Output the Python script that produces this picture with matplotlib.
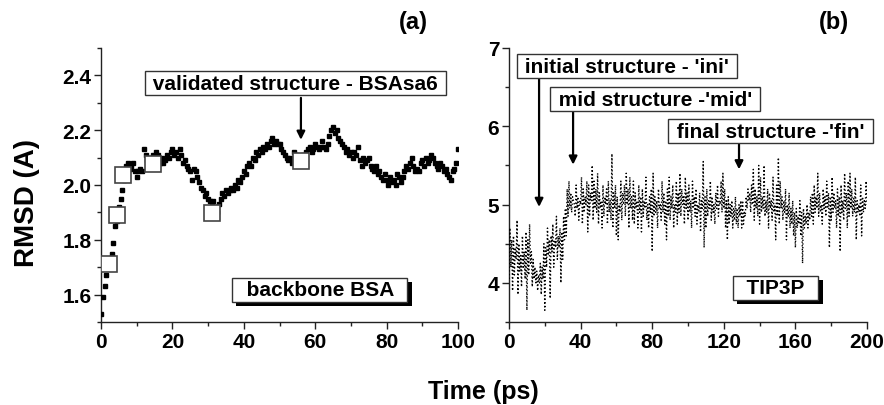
import numpy as np
import matplotlib.pyplot as plt
from matplotlib.ticker import MultipleLocator
import matplotlib.patheffects as pe

plt.rcParams['font.family'] = ['Liberation Sans', 'DejaVu Sans']
plt.rcParams['font.weight'] = 'bold'

# (a) backbone BSA RMSD, sampled every 0.5 ps
bsa_time = np.arange(0, 100.5, 0.5)
bsa_rmsd = [
    1.53, 1.59, 1.63, 1.67, 1.70, 1.72, 1.75, 1.79, 1.85, 1.87,
    1.92, 1.95, 1.98, 2.02, 2.07, 2.08, 2.06, 2.07, 2.08, 2.05,
    2.03, 2.05, 2.06, 2.05, 2.13, 2.11, 2.09, 2.08, 2.10, 2.11,
    2.09, 2.12, 2.11, 2.08, 2.10, 2.08, 2.09, 2.11, 2.10, 2.12,
    2.13, 2.11, 2.12, 2.10, 2.13, 2.11, 2.08, 2.09, 2.07, 2.06,
    2.05, 2.02, 2.06, 2.05, 2.03, 2.01, 1.99, 1.98, 1.96, 1.97,
    1.95, 1.94, 1.93, 1.94, 1.92, 1.90, 1.93, 1.95, 1.97, 1.96,
    1.98, 1.97, 1.98, 1.99, 1.98, 2.00, 1.99, 2.02, 2.01, 2.03,
    2.05, 2.04, 2.07, 2.08, 2.07, 2.10, 2.09, 2.12, 2.11, 2.13,
    2.12, 2.14, 2.13, 2.15, 2.14, 2.16, 2.17, 2.15, 2.16, 2.15,
    2.15, 2.13, 2.12, 2.11, 2.10, 2.09, 2.10, 2.08, 2.12, 2.11,
    2.09, 2.10, 2.08, 2.11, 2.10, 2.12, 2.13, 2.14, 2.12, 2.13,
    2.15, 2.14, 2.13, 2.14, 2.16, 2.14, 2.13, 2.15, 2.18, 2.20,
    2.21, 2.19, 2.20, 2.17, 2.16, 2.15, 2.14, 2.12, 2.13, 2.11,
    2.12, 2.10, 2.12, 2.11, 2.14, 2.09, 2.07, 2.10, 2.08, 2.09,
    2.10, 2.07, 2.06, 2.05, 2.07, 2.04, 2.05, 2.03, 2.02, 2.04,
    2.02, 2.00, 2.03, 2.01, 2.02, 2.00, 2.04, 2.03, 2.01, 2.03,
    2.05, 2.07, 2.06, 2.08, 2.10, 2.07, 2.05, 2.06, 2.05, 2.08,
    2.09, 2.07, 2.10, 2.08, 2.09, 2.11, 2.10, 2.08, 2.07, 2.06,
    2.08, 2.07, 2.05, 2.06, 2.04, 2.03, 2.02, 2.05, 2.06, 2.08,
    2.13,
]
# selected structures (open squares)
sel_time = [2.2, 4.5, 6.3, 14.5, 31.1, 56.0]
sel_rmsd = [1.713, 1.891, 2.036, 2.077, 1.899, 2.089]

# (b) TIP3P RMSD, sampled every 0.5 ps
tip_time = np.arange(0, 200.5, 0.5)
tip_rmsd = [
    4.05, 4.70, 4.20, 4.55, 3.90, 4.60, 4.10, 4.45, 4.30, 4.80, 3.85, 4.50, 4.15, 4.35, 3.95, 4.60, 4.20, 4.40, 4.05, 4.65,
    3.65, 4.55, 4.10, 4.75, 4.25, 4.40, 3.95, 4.30, 4.05, 4.20, 4.00, 4.15, 3.90, 4.10, 4.00, 4.25, 3.85, 4.20, 4.05, 4.50,
    3.65, 4.45, 4.20, 4.70, 4.35, 4.55, 3.80, 4.60, 4.40, 4.75, 4.20, 4.55, 4.45, 4.85, 4.30, 4.60, 4.45, 4.70, 4.00, 4.65,
    4.30, 4.85, 4.55, 4.95, 4.60, 5.20, 4.85, 5.30, 4.95, 5.15, 4.90, 5.10, 5.05, 5.00, 4.85, 5.25, 4.95, 5.10, 4.80, 5.05,
    5.00, 5.35, 4.75, 5.20, 4.90, 5.10, 5.00, 5.30, 4.65, 5.25, 4.85, 5.15, 5.05, 5.50, 4.80, 5.30, 4.95, 5.20, 4.90, 5.40,
    4.75, 5.15, 4.95, 5.05, 4.70, 5.25, 4.85, 5.10, 5.00, 5.20, 4.75, 5.30, 4.90, 5.05, 4.80, 5.65, 4.70, 5.15, 4.95, 5.25,
    4.60, 5.10, 4.55, 5.00, 4.90, 5.30, 4.80, 5.15, 5.00, 5.25, 4.85, 5.40, 5.00, 5.20, 4.70, 5.35, 4.95, 5.10, 4.80, 5.30,
    4.75, 5.15, 4.95, 5.05, 4.70, 5.25, 4.90, 5.10, 4.65, 5.20, 4.85, 5.05, 4.95, 5.35, 4.80, 5.00, 4.70, 5.10, 4.90, 5.20,
    4.40, 5.40, 4.85, 5.10, 4.90, 5.05, 4.70, 5.20, 4.95, 5.00, 4.80, 5.30, 4.90, 5.15, 4.75, 5.05, 4.55, 5.20, 4.85, 5.35,
    4.80, 5.10, 4.95, 5.25, 4.70, 5.00, 4.90, 5.30, 4.75, 5.15, 4.90, 5.40, 4.85, 5.20, 5.00, 5.10, 4.75, 5.35, 4.95, 5.15,
    4.80, 5.25, 4.90, 5.05, 4.70, 5.30, 4.95, 5.10, 4.85, 5.20, 4.75, 5.00, 4.90, 5.15, 4.65, 5.05, 4.95, 5.55, 4.45, 5.10,
    4.70, 5.20, 4.85, 5.05, 4.95, 5.30, 4.80, 5.10, 4.90, 5.00, 4.75, 5.15, 4.95, 5.25, 4.85, 5.05, 5.00, 5.30, 4.90, 5.40,
    4.95, 5.20, 4.70, 5.05, 4.55, 5.10, 4.75, 5.00, 4.85, 5.05, 4.70, 4.95, 4.80, 5.10, 4.75, 4.95, 4.70, 5.00, 4.85, 5.05,
    4.70, 5.05, 4.75, 4.90, 4.85, 5.10, 4.95, 5.20, 5.05, 5.15, 4.90, 5.25, 5.00, 5.45, 4.80, 5.20, 4.95, 5.10, 4.85, 5.50,
    4.75, 5.35, 4.90, 5.10, 4.95, 5.50, 4.85, 5.05, 4.90, 5.20, 4.70, 5.15, 4.95, 5.05, 4.80, 5.35, 4.90, 5.00, 4.55, 5.25,
    4.85, 5.60, 4.75, 5.30, 4.95, 5.10, 4.80, 5.05, 4.90, 5.20, 4.55, 5.00, 4.85, 5.15, 4.70, 4.95, 4.75, 5.05, 4.60, 4.90,
    4.45, 4.95, 4.70, 4.85, 4.75, 5.05, 4.60, 4.90, 4.25, 4.95, 4.70, 4.85, 4.75, 5.00, 4.70, 4.90, 4.80, 5.10, 4.85, 5.15,
    4.75, 5.25, 4.90, 5.10, 4.95, 5.40, 4.85, 5.15, 4.90, 5.00, 4.75, 5.20, 4.95, 5.10, 4.85, 5.30, 4.95, 5.15, 4.45, 5.10,
    4.80, 5.35, 4.90, 5.15, 4.95, 5.05, 4.70, 5.20, 4.85, 5.10, 4.40, 5.25, 4.90, 5.05, 4.80, 5.40, 4.95, 5.15, 4.70, 5.30,
    4.85, 5.40, 4.95, 5.20, 4.85, 5.10, 4.90, 5.35, 4.55, 5.05, 4.90, 5.00, 4.85, 5.25, 4.60, 5.10, 4.90, 5.05, 4.95, 5.30,
    5.00,
]

FS = 15
edge = '#333333'


def style_axes(ax):
    for s in ['top', 'right']:
        ax.spines[s].set_visible(False)
    for s in ['left', 'bottom']:
        ax.spines[s].set_color('#222222')
        ax.spines[s].set_linewidth(1.0)
    ax.tick_params(which='major', direction='out', length=5, width=1,
                   labelsize=FS, color='#222222', pad=2)
    ax.tick_params(which='minor', direction='out', length=3, width=1,
                   color='#222222')
    for lab in ax.get_xticklabels() + ax.get_yticklabels():
        lab.set_fontweight('bold')


def label_box(ax, x, y, txt, shadow=False):
    t = ax.text(x, y, txt, ha='center', va='center', fontsize=FS,
                fontweight='bold', zorder=6,
                bbox=dict(boxstyle='square,pad=0.12', fc='white', ec=edge, lw=1))
    if shadow:
        t.get_bbox_patch().set_path_effects(
            [pe.SimplePatchShadow(offset=(3, -3), shadow_rgbFace='black', alpha=1.0),
             pe.Normal()])
    return t


def arrow(ax, x, y0, y1):
    ax.annotate('', xy=(x, y1), xytext=(x, y0), zorder=5,
                arrowprops=dict(arrowstyle='-|>', color='black', lw=1.6,
                                mutation_scale=12, shrinkA=0, shrinkB=0))


fig = plt.figure(figsize=(8.84, 4.06), dpi=100)
ax1 = fig.add_axes([101 / 884, 83 / 406, 357 / 884, 274 / 406])
ax2 = fig.add_axes([509 / 884, 83 / 406, 358 / 884, 274 / 406])

# panel (a)
ax1.plot(bsa_time, bsa_rmsd, linestyle='none', marker='s', markersize=2.6,
         color='black', zorder=3)
ax1.plot(sel_time, sel_rmsd, linestyle='none', marker='s', markersize=11,
         mfc='white', mec='#444444', mew=1.2, zorder=4)
ax1.set_xlim(0, 100)
ax1.set_ylim(1.5, 2.5)
ax1.xaxis.set_major_locator(MultipleLocator(20))
ax1.xaxis.set_minor_locator(MultipleLocator(10))
ax1.yaxis.set_major_locator(MultipleLocator(0.2))
ax1.yaxis.set_minor_locator(MultipleLocator(0.1))
style_axes(ax1)
label_box(ax1, 54.5, 2.372, ' validated structure - BSAsa6 ')
arrow(ax1, 56, 2.318, 2.165)
label_box(ax1, 61.3, 1.617, '  backbone BSA  ', shadow=True)

# panel (b)
ax2.plot(tip_time, tip_rmsd, linestyle=':', linewidth=1.0, color='black', zorder=3)
ax2.set_xlim(0, 200)
ax2.set_ylim(3.5, 7)
ax2.xaxis.set_major_locator(MultipleLocator(40))
ax2.xaxis.set_minor_locator(MultipleLocator(20))
ax2.yaxis.set_major_locator(MultipleLocator(1))
ax2.yaxis.set_minor_locator(MultipleLocator(0.5))
style_axes(ax2)
label_box(ax2, 65.9, 6.77, " initial structure - 'ini' ")
arrow(ax2, 16.8, 6.61, 4.97)
label_box(ax2, 81.8, 6.346, " mid structure -'mid' ")
arrow(ax2, 35.8, 6.18, 5.51)
label_box(ax2, 146.1, 5.936, " final structure -'fin' ")
arrow(ax2, 128.5, 5.77, 5.45)
label_box(ax2, 149, 3.94, '  TIP3P  ', shadow=True)

fig.text(413 / 884, 1 - 23 / 406, '(a)', ha='center', va='center',
         fontsize=17, fontweight='bold')
fig.text(834 / 884, 1 - 23 / 406, '(b)', ha='center', va='center',
         fontsize=17, fontweight='bold')
fig.text(27 / 884, 1 - 203 / 406, 'RMSD (A)', rotation=90, ha='center',
         va='center', fontsize=20, fontweight='bold')
fig.text(483 / 884, 1 - 392 / 406, 'Time (ps)', ha='center', va='center',
         fontsize=18, fontweight='bold')

fig.savefig('out.png', dpi=100)
